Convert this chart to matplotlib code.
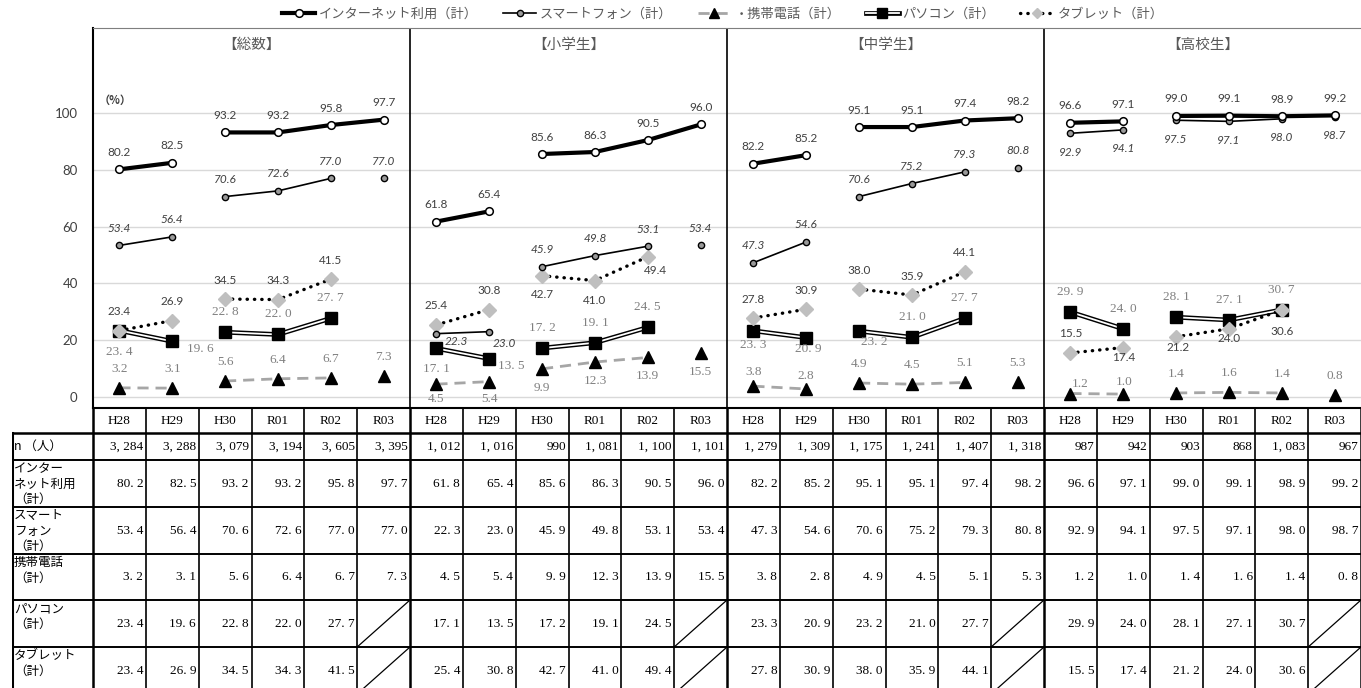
import matplotlib
matplotlib.use("Agg")
import matplotlib.pyplot as plt
from matplotlib.lines import Line2D

plt.rcParams['font.family'] = ['Noto Sans CJK JP', 'DejaVu Sans']

SANS = ['Lato', 'Noto Sans CJK JP']
SERIF = ['Liberation Serif', 'Noto Sans CJK JP']

years = ["H28", "H29", "H30", "R01", "R02", "R03"]
groups = ["【総数】", "【小学生】", "【中学生】", "【高校生】"]
row_names = ["n （人）", "インター\nネット利用\n（計）", "スマート\nフォン\n（計）",
             "携帯電話\n（計）", "パソコン\n（計）", "タブレット\n（計）"]
legend_names = ["インターネット利用（計）", "スマートフォン（計）", "・携帯電話（計）",
                "パソコン（計）", "タブレット（計）"]

n_people = [[3284, 3288, 3079, 3194, 3605, 3395],
            [1012, 1016, 990, 1081, 1100, 1101],
            [1279, 1309, 1175, 1241, 1407, 1318],
            [987, 942, 903, 868, 1083, 967]]
internet = [[80.2, 82.5, 93.2, 93.2, 95.8, 97.7],
            [61.8, 65.4, 85.6, 86.3, 90.5, 96.0],
            [82.2, 85.2, 95.1, 95.1, 97.4, 98.2],
            [96.6, 97.1, 99.0, 99.1, 98.9, 99.2]]
smartphone = [[53.4, 56.4, 70.6, 72.6, 77.0, 77.0],
              [22.3, 23.0, 45.9, 49.8, 53.1, 53.4],
              [47.3, 54.6, 70.6, 75.2, 79.3, 80.8],
              [92.9, 94.1, 97.5, 97.1, 98.0, 98.7]]
mobile = [[3.2, 3.1, 5.6, 6.4, 6.7, 7.3],
          [4.5, 5.4, 9.9, 12.3, 13.9, 15.5],
          [3.8, 2.8, 4.9, 4.5, 5.1, 5.3],
          [1.2, 1.0, 1.4, 1.6, 1.4, 0.8]]
pc = [[23.4, 19.6, 22.8, 22.0, 27.7, None],
      [17.1, 13.5, 17.2, 19.1, 24.5, None],
      [23.3, 20.9, 23.2, 21.0, 27.7, None],
      [29.9, 24.0, 28.1, 27.1, 30.7, None]]
tablet = [[23.4, 26.9, 34.5, 34.3, 41.5, None],
          [25.4, 30.8, 42.7, 41.0, 49.4, None],
          [27.8, 30.9, 38.0, 35.9, 44.1, None],
          [15.5, 17.4, 21.2, 24.0, 30.6, None]]

W, H = 1361, 688
GREY_TXT = "#404040"


def fig_box(x0, y0, x1, y1):
    # pixel box (top-left origin) -> figure fraction
    return [x0 / W, 1 - y1 / H, (x1 - x0) / W, (y1 - y0) / H]


def draw_series(ax, data, segs, line_kws, marker_kw, z):
    for p in range(4):
        for seg in segs:
            xs = [p * 6 + c for c in seg if data[p][c] is not None]
            ys = [data[p][c] for c in seg if data[p][c] is not None]
            if not xs:
                continue
            if len(xs) > 1:
                for i, kw in enumerate(line_kws):
                    ax.plot(xs, ys, zorder=z + i * 0.1, **kw)
            ax.plot(xs, ys, ls="none", zorder=z + 0.5, **marker_kw)


def draw_labels(ax, data, fmt, default, offsets, font, color, style="normal", size=8.5):
    for p in range(4):
        for c in range(6):
            v = data[p][c]
            if v is None:
                continue
            dx, dy = offsets.get((p, c), offsets.get(p, default))
            ax.annotate(fmt(v), (p * 6 + c, v), xytext=(dx, dy), textcoords="offset pixels",
                        ha="center", va="center", fontsize=size, color=color,
                        family=font, style=style, zorder=10)


def draw_table(fig):
    col_w = (W - 93) / 24
    left = -0.5 - (93 - 12) / col_w
    ax = fig.add_axes(fig_box(12, 408, W, H))
    ax.set_xlim(left, 23.5)
    ax.set_ylim(H, 408)
    ax.axis("off")
    rows = [433, 460, 507, 554, 600, 647, 694]

    # header row with years
    for i in range(24):
        ax.text(i, 420.5, years[i % 6], ha="center", va="center", fontsize=9.5, family=SERIF)
    for k in range(25):
        x = k - 0.5
        lw = 1.8 if k % 6 == 0 else 1.2
        ax.plot([x, x], [408, H], color="black", lw=lw, clip_on=False)
    ax.plot([left, left], [433, H], color="black", lw=2.2)
    for y in rows[:-1]:
        ax.plot([left, 23.5], [y, y], color="black", lw=1.4 if y > 433 else 1.8)

    # row labels
    ax.text(left + 0.04, (rows[0] + rows[1]) / 2, row_names[0], ha="left", va="center",
            fontsize=9)
    for r in range(1, 6):
        ax.text(left + 0.04, rows[r] + 2, row_names[r], ha="left", va="top", fontsize=9,
                linespacing=1.25)

    tables = [n_people, internet, smartphone, mobile, pc, tablet]
    for r, data in enumerate(tables):
        yc = (rows[r] + rows[r + 1]) / 2
        for p in range(4):
            for c in range(6):
                v = data[p][c]
                x = p * 6 + c
                if v is None:
                    ax.plot([x - 0.5, x + 0.5], [rows[r + 1], rows[r]], color="black", lw=0.9)
                    continue
                if r == 0:
                    s = f"{v:,}".replace(",", ", ")
                else:
                    s = f"{v:.1f}".replace(".", ". ")
                ax.text(x + 0.45, yc, s, ha="right", va="center", fontsize=9.5, family=SERIF)


def main():
    fig = plt.figure(figsize=(W / 100, H / 100), dpi=100)
    ax = fig.add_axes(fig_box(93, 28, W, 408))
    ax.set_xlim(-0.5, 23.5)
    ax.set_ylim(-3.9, 130)

    ax.set_yticks([0, 20, 40, 60, 80, 100])
    ax.set_xticks([])
    ax.tick_params(axis="y", length=0, pad=11, labelsize=9.5, labelcolor=GREY_TXT)
    for t in ax.get_yticklabels():
        t.set_family(SANS)
    ax.grid(axis="y", color="#d9d9d9", lw=1)
    ax.set_axisbelow(True)
    ax.spines["left"].set_linewidth(1.5)
    ax.spines["bottom"].set_linewidth(1.5)
    ax.spines["top"].set_color("#7f7f7f")
    ax.spines["right"].set_visible(False)
    for x in [5.5, 11.5, 17.5]:
        ax.axvline(x, color="black", lw=1.2)

    for p, g in enumerate(groups):
        ax.text(p * 6 + 2.5, 124, g, ha="center", va="center", fontsize=10.5, color="#595959")
    ax.text(-0.08, 104.5, "（%）", ha="center", va="center", fontsize=8, color=GREY_TXT,
            fontweight="bold")

    two = [[0, 1], [2, 3, 4], [5]]
    inet_kw = dict(marker="o", ms=5.5, mfc="white", mec="black", mew=1.1, color="black")
    smart_kw = dict(marker="o", ms=4.5, mfc="#9a9a9a", mec="black", mew=1.0, color="black")
    mob_kw = dict(marker="^", ms=8.5, color="black")
    pc_kw = dict(marker="s", ms=9, color="black")
    tab_kw = dict(marker="D", ms=7, mfc="#bfbfbf", mec="#bfbfbf", color="#bfbfbf")

    draw_series(ax, mobile, two, [dict(color="#a6a6a6", lw=2.0, ls=(0, (4, 2.5)))], mob_kw, 3)
    draw_series(ax, pc, two, [dict(color="black", lw=3.4), dict(color="white", lw=1.3)], pc_kw, 4)
    draw_series(ax, tablet, two, [dict(color="black", lw=2.4, ls=(0, (0.1, 2.1)),
                                       dash_capstyle="round")], tab_kw, 5)
    draw_series(ax, smartphone, two, [dict(color="black", lw=1.2)], smart_kw, 6)
    draw_series(ax, internet, [[0, 1], [2, 3, 4, 5]], [dict(color="black", lw=3.0)], inet_kw, 7)

    f1 = lambda v: f"{v:.1f}"
    f2 = lambda v: f"{v:.1f}".replace(".", ". ")

    draw_labels(ax, internet, f1, (0, 17), {}, SANS, GREY_TXT)
    draw_labels(ax, smartphone, f1, (0, 17),
                {3: (0, -19), (1, 0): (20, -8), (1, 1): (15, -12)}, SANS, GREY_TXT, "italic")
    draw_labels(ax, tablet, f1, (0, 19),
                {(1, 2): (0, -19), (1, 3): (0, -20), (1, 4): (8, -14),
                 (3, 1): (0, -10), (3, 2): (2, -11), (3, 3): (0, -10), (3, 4): (0, -21)},
                SANS, GREY_TXT)
    draw_labels(ax, pc, f2, (0, 20),
                {(0, 0): (0, -21), (0, 1): (28, -8), (1, 0): (0, -21), (1, 1): (22, -7),
                 (2, 0): (0, -14), (2, 1): (2, -11), (2, 2): (15, -11)},
                SERIF, "#808080", size=9.5)
    draw_labels(ax, mobile, f1, (0, 19),
                {1: (0, -19), (1, 0): (0, -15), (1, 1): (0, -17), (2, 0): (0, 14), (2, 1): (0, 13),
                 (3, 0): (10, 10), (3, 1): (1, 12)},
                SERIF, "#808080", size=9.5)

    # legend
    handles = [
        Line2D([], [], lw=3.0, **inet_kw),
        Line2D([], [], lw=1.2, **smart_kw),
        Line2D([], [], color="#a6a6a6", lw=2.0, ls=(0, (4, 2.5)), marker="^", ms=7,
               mfc="black", mec="black"),
        (Line2D([], [], color="black", lw=3.4), Line2D([], [], color="white", lw=1.3),
         Line2D([], [], ls="none", marker="s", ms=7, color="black")),
        Line2D([], [], color="black", lw=2.4, ls=(0, (0.1, 2.1)), dash_capstyle="round",
               marker="D", ms=5, mfc="#bfbfbf", mec="#bfbfbf"),
    ]
    leg = fig.legend(handles, legend_names, loc="center", bbox_to_anchor=(0.531, 1 - 14 / H),
                     ncol=5, frameon=False, fontsize=9.5, handlelength=2.5,
                     handletextpad=0.3, columnspacing=1.9, borderaxespad=0)
    for i, t in enumerate(leg.get_texts()):
        t.set_color("#595959")
        if i == 1:
            t.set_style("italic")

    draw_table(fig)
    fig.savefig("out.png", dpi=100)


if __name__ == "__main__":
    main()
